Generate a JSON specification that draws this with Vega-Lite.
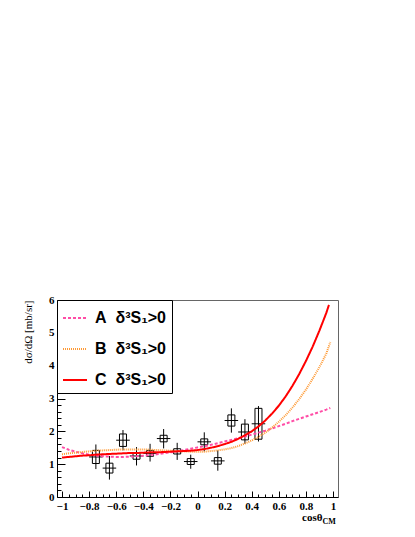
{
  "$schema": "https://vega.github.io/schema/vega-lite/v6.json",
  "width": 281,
  "height": 197,
  "autosize": {"type": "none"},
  "padding": {"left": 57, "top": 300, "right": 77, "bottom": 40},
  "background": "white",
  "datasets": {
    "curves": [
      {"m": "A", "x": -1, "y": 1.52}, {"m": "A", "x": -0.95, "y": 1.44}, {"m": "A", "x": -0.9, "y": 1.38},
      {"m": "A", "x": -0.85, "y": 1.33}, {"m": "A", "x": -0.8, "y": 1.29}, {"m": "A", "x": -0.75, "y": 1.26},
      {"m": "A", "x": -0.7, "y": 1.24}, {"m": "A", "x": -0.65, "y": 1.23}, {"m": "A", "x": -0.6, "y": 1.22},
      {"m": "A", "x": -0.55, "y": 1.22}, {"m": "A", "x": -0.5, "y": 1.23}, {"m": "A", "x": -0.45, "y": 1.24},
      {"m": "A", "x": -0.4, "y": 1.26}, {"m": "A", "x": -0.35, "y": 1.28}, {"m": "A", "x": -0.3, "y": 1.3},
      {"m": "A", "x": -0.25, "y": 1.33}, {"m": "A", "x": -0.2, "y": 1.36}, {"m": "A", "x": -0.15, "y": 1.39},
      {"m": "A", "x": -0.1, "y": 1.43}, {"m": "A", "x": -0.05, "y": 1.47}, {"m": "A", "x": 0, "y": 1.51},
      {"m": "A", "x": 0.05, "y": 1.55}, {"m": "A", "x": 0.1, "y": 1.59}, {"m": "A", "x": 0.15, "y": 1.64},
      {"m": "A", "x": 0.2, "y": 1.69}, {"m": "A", "x": 0.25, "y": 1.74}, {"m": "A", "x": 0.3, "y": 1.79},
      {"m": "A", "x": 0.35, "y": 1.84}, {"m": "A", "x": 0.4, "y": 1.9}, {"m": "A", "x": 0.45, "y": 1.96},
      {"m": "A", "x": 0.5, "y": 2.02}, {"m": "A", "x": 0.55, "y": 2.09}, {"m": "A", "x": 0.6, "y": 2.16},
      {"m": "A", "x": 0.65, "y": 2.23}, {"m": "A", "x": 0.7, "y": 2.31}, {"m": "A", "x": 0.75, "y": 2.38},
      {"m": "A", "x": 0.8, "y": 2.45}, {"m": "A", "x": 0.85, "y": 2.52}, {"m": "A", "x": 0.9, "y": 2.59},
      {"m": "A", "x": 0.95, "y": 2.66}, {"m": "A", "x": 0.98, "y": 2.71},
      {"m": "B", "x": -1, "y": 1.3}, {"m": "B", "x": -0.95, "y": 1.33}, {"m": "B", "x": -0.9, "y": 1.35},
      {"m": "B", "x": -0.85, "y": 1.37}, {"m": "B", "x": -0.8, "y": 1.39}, {"m": "B", "x": -0.75, "y": 1.41},
      {"m": "B", "x": -0.7, "y": 1.42}, {"m": "B", "x": -0.65, "y": 1.43}, {"m": "B", "x": -0.6, "y": 1.44},
      {"m": "B", "x": -0.55, "y": 1.45}, {"m": "B", "x": -0.5, "y": 1.45}, {"m": "B", "x": -0.45, "y": 1.45},
      {"m": "B", "x": -0.4, "y": 1.45}, {"m": "B", "x": -0.35, "y": 1.44}, {"m": "B", "x": -0.3, "y": 1.43},
      {"m": "B", "x": -0.25, "y": 1.42}, {"m": "B", "x": -0.2, "y": 1.41}, {"m": "B", "x": -0.15, "y": 1.4},
      {"m": "B", "x": -0.1, "y": 1.39}, {"m": "B", "x": -0.05, "y": 1.38}, {"m": "B", "x": 0, "y": 1.38},
      {"m": "B", "x": 0.05, "y": 1.38}, {"m": "B", "x": 0.1, "y": 1.4}, {"m": "B", "x": 0.15, "y": 1.42},
      {"m": "B", "x": 0.2, "y": 1.45}, {"m": "B", "x": 0.25, "y": 1.49}, {"m": "B", "x": 0.3, "y": 1.55},
      {"m": "B", "x": 0.35, "y": 1.63}, {"m": "B", "x": 0.4, "y": 1.72}, {"m": "B", "x": 0.45, "y": 1.83},
      {"m": "B", "x": 0.5, "y": 1.96}, {"m": "B", "x": 0.55, "y": 2.11}, {"m": "B", "x": 0.6, "y": 2.29},
      {"m": "B", "x": 0.65, "y": 2.49}, {"m": "B", "x": 0.7, "y": 2.72}, {"m": "B", "x": 0.75, "y": 2.98},
      {"m": "B", "x": 0.8, "y": 3.27}, {"m": "B", "x": 0.85, "y": 3.6}, {"m": "B", "x": 0.9, "y": 3.96},
      {"m": "B", "x": 0.95, "y": 4.36}, {"m": "B", "x": 0.98, "y": 4.72},
      {"m": "C", "x": -1, "y": 1.2}, {"m": "C", "x": -0.95, "y": 1.22}, {"m": "C", "x": -0.9, "y": 1.24},
      {"m": "C", "x": -0.85, "y": 1.26}, {"m": "C", "x": -0.8, "y": 1.27}, {"m": "C", "x": -0.75, "y": 1.29},
      {"m": "C", "x": -0.7, "y": 1.3}, {"m": "C", "x": -0.65, "y": 1.31}, {"m": "C", "x": -0.6, "y": 1.32},
      {"m": "C", "x": -0.55, "y": 1.33}, {"m": "C", "x": -0.5, "y": 1.34}, {"m": "C", "x": -0.45, "y": 1.34},
      {"m": "C", "x": -0.4, "y": 1.35}, {"m": "C", "x": -0.35, "y": 1.36}, {"m": "C", "x": -0.3, "y": 1.36},
      {"m": "C", "x": -0.25, "y": 1.37}, {"m": "C", "x": -0.2, "y": 1.38}, {"m": "C", "x": -0.15, "y": 1.39},
      {"m": "C", "x": -0.1, "y": 1.4}, {"m": "C", "x": -0.05, "y": 1.41}, {"m": "C", "x": 0, "y": 1.43},
      {"m": "C", "x": 0.05, "y": 1.46}, {"m": "C", "x": 0.1, "y": 1.5}, {"m": "C", "x": 0.15, "y": 1.55},
      {"m": "C", "x": 0.2, "y": 1.61}, {"m": "C", "x": 0.25, "y": 1.68}, {"m": "C", "x": 0.3, "y": 1.77},
      {"m": "C", "x": 0.35, "y": 1.88}, {"m": "C", "x": 0.4, "y": 2.0}, {"m": "C", "x": 0.45, "y": 2.15},
      {"m": "C", "x": 0.5, "y": 2.33}, {"m": "C", "x": 0.55, "y": 2.54}, {"m": "C", "x": 0.6, "y": 2.78},
      {"m": "C", "x": 0.65, "y": 3.06}, {"m": "C", "x": 0.7, "y": 3.38}, {"m": "C", "x": 0.75, "y": 3.74},
      {"m": "C", "x": 0.8, "y": 4.14}, {"m": "C", "x": 0.85, "y": 4.58}, {"m": "C", "x": 0.9, "y": 5.07},
      {"m": "C", "x": 0.95, "y": 5.6}, {"m": "C", "x": 0.97, "y": 5.85}
    ],
    "pts": [
      {"x": -0.75, "xlo": -0.8, "xhi": -0.7, "y": 1.22, "lo": 0.85, "hi": 1.6, "slo": 1.02, "shi": 1.42},
      {"x": -0.65, "xlo": -0.7, "xhi": -0.6, "y": 0.88, "lo": 0.53, "hi": 1.25, "slo": 0.73, "shi": 1.03},
      {"x": -0.55, "xlo": -0.6, "xhi": -0.5, "y": 1.73, "lo": 1.42, "hi": 2.04, "slo": 1.54, "shi": 1.92},
      {"x": -0.45, "xlo": -0.5, "xhi": -0.4, "y": 1.25, "lo": 0.96, "hi": 1.52, "slo": 1.15, "shi": 1.35},
      {"x": -0.35, "xlo": -0.4, "xhi": -0.3, "y": 1.33, "lo": 1.08, "hi": 1.62, "slo": 1.24, "shi": 1.42},
      {"x": -0.25, "xlo": -0.3, "xhi": -0.2, "y": 1.78, "lo": 1.48, "hi": 2.07, "slo": 1.68, "shi": 1.88},
      {"x": -0.15, "xlo": -0.2, "xhi": -0.1, "y": 1.39, "lo": 1.13, "hi": 1.65, "slo": 1.31, "shi": 1.47},
      {"x": -0.05, "xlo": -0.1, "xhi": 0.0, "y": 1.08, "lo": 0.86, "hi": 1.29, "slo": 0.99, "shi": 1.17},
      {"x": 0.05, "xlo": 0.0, "xhi": 0.1, "y": 1.68, "lo": 1.39, "hi": 1.97, "slo": 1.59, "shi": 1.77},
      {"x": 0.15, "xlo": 0.1, "xhi": 0.2, "y": 1.1, "lo": 0.8, "hi": 1.42, "slo": 1.0, "shi": 1.2},
      {"x": 0.25, "xlo": 0.2, "xhi": 0.3, "y": 2.33, "lo": 1.96, "hi": 2.7, "slo": 2.16, "shi": 2.5},
      {"x": 0.35, "xlo": 0.3, "xhi": 0.4, "y": 1.98, "lo": 1.62, "hi": 2.37, "slo": 1.74, "shi": 2.22},
      {"x": 0.45, "xlo": 0.4, "xhi": 0.5, "y": 2.23, "lo": 1.69, "hi": 2.77, "slo": 1.76, "shi": 2.7}
    ]
  },
  "layer": [
    {
      "data": {"name": "pts"},
      "mark": {"type": "rule", "color": "black", "strokeWidth": 1},
      "encoding": {
        "x": {"field": "xlo", "type": "quantitative", "scale": {"domain": [-1, 1], "nice": false}, "axis": null},
        "x2": {"field": "xhi"},
        "y": {"field": "y", "type": "quantitative", "axis": null}
      }
    },
    {
      "data": {"name": "pts"},
      "mark": {"type": "rule", "color": "black", "strokeWidth": 1},
      "encoding": {
        "x": {"field": "x", "type": "quantitative", "axis": null},
        "y": {"field": "lo", "type": "quantitative", "axis": null},
        "y2": {"field": "hi"}
      }
    },
    {
      "data": {"name": "pts"},
      "mark": {"type": "bar", "size": 7, "fill": null, "fillOpacity": 0, "stroke": "black", "strokeWidth": 1},
      "encoding": {
        "x": {"field": "x", "type": "quantitative",
          "axis": {"values": [-0.95, -0.9, -0.85, -0.75, -0.7, -0.65, -0.55, -0.5, -0.45, -0.35, -0.3, -0.25, -0.15, -0.1, -0.05, 0.05, 0.1, 0.15, 0.25, 0.3, 0.35, 0.45, 0.5, 0.55, 0.65, 0.7, 0.75, 0.85, 0.9, 0.95],
            "orient": "bottom", "labels": false, "domain": false, "grid": false, "tickSize": -3,
            "title": "CM", "titleFont": "Liberation Serif", "titleFontWeight": "bold", "titleFontSize": 8,
            "titleX": 265, "titleY": 26, "titleAlign": "left", "titleBaseline": "alphabetic", "titleAnchor": null}},
        "y": {"field": "slo", "type": "quantitative",
          "axis": {"values": [0.2, 0.4, 0.6, 0.8, 1.2, 1.4, 1.6, 1.8, 2.2, 2.4, 2.6, 2.8, 3.2, 3.4, 3.6, 3.8, 4.2, 4.4, 4.6, 4.8, 5.2, 5.4, 5.6, 5.8],
            "orient": "left", "labels": false, "domain": false, "grid": false, "tickSize": -4, "title": null}},
        "y2": {"field": "shi"}
      }
    },
    {
      "data": {"name": "curves"},
      "mark": {"type": "line", "strokeWidth": 2, "clip": true},
      "encoding": {
        "x": {"field": "x", "type": "quantitative",
          "axis": {"values": [-1, -0.8, -0.6, -0.4, -0.2, 0, 0.2, 0.4, 0.6, 0.8, 1], "orient": "bottom",
            "format": "~g", "tickSize": -6, "labelPadding": 9, "grid": false,
            "title": "cosθ", "titleFont": "Liberation Serif", "titleFontWeight": "bold", "titleFontSize": 11,
            "titleX": 265, "titleY": 23, "titleAlign": "right", "titleBaseline": "alphabetic", "titleAnchor": null}},
        "y": {"field": "y", "type": "quantitative", "scale": {"domain": [0, 6], "nice": false},
          "axis": {"values": [0, 1, 2, 3, 4, 5, 6], "orient": "left", "tickSize": -8, "labelPadding": 11, "grid": false,
            "title": "dσ/dΩ [mb/sr]", "titleFont": "Liberation Serif", "titleFontWeight": "normal", "titleFontSize": 11,
            "titleX": -29, "titleY": 0, "titleAngle": -90, "titleAlign": "right", "titleBaseline": "middle", "titleAnchor": null}},
        "color": {"field": "m", "type": "nominal",
          "scale": {"domain": ["A", "B", "C"], "range": ["#ff4da6", "#ff9933", "#ff0000"]},
          "legend": {"title": null, "labelExpr": "datum.label + '\u00a0\u00a0δ³S₁>0'"}},
        "strokeDash": {"field": "m", "type": "nominal",
          "scale": {"domain": ["A", "B", "C"], "range": [[3, 2], [1, 1], [1, 0]]},
          "legend": {"title": null, "labelExpr": "datum.label + '\u00a0\u00a0δ³S₁>0'"}}
      }
    }
  ],
  "resolve": {"axis": {"x": "independent", "y": "independent"}},
  "config": {
    "view": {"stroke": "#666666", "strokeWidth": 1},
    "axis": {
      "labelFont": "Liberation Serif", "labelFontWeight": "bold", "labelFontSize": 11, "labelColor": "black",
      "domainColor": "black", "tickColor": "black", "titleColor": "black", "labelAngle": 0
    },
    "legend": {
      "orient": "none", "legendX": 0, "legendY": 0, "strokeColor": "black", "fillColor": "white",
      "padding": 5, "symbolType": "stroke", "symbolSize": 576, "symbolStrokeWidth": 2,
      "labelFont": "Liberation Sans", "labelFontSize": 16, "labelFontWeight": "bold", "labelColor": "black",
      "labelOffset": 7, "rowPadding": 10, "labelLimit": 220
    }
  }
}
